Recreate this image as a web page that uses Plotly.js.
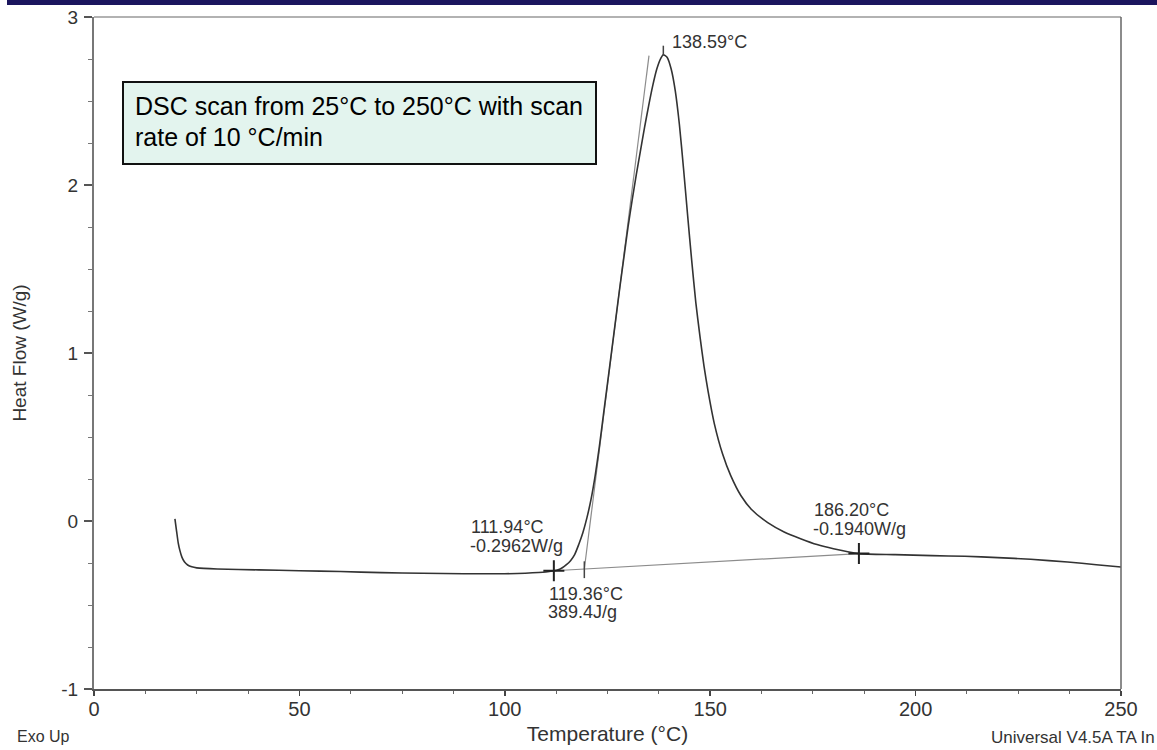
<!DOCTYPE html>
<html>
<head>
<meta charset="utf-8">
<script src="https://cdn.plot.ly/plotly-3.0.1.min.js"></script>
<style>html,body{margin:0;padding:0;background:#fff;}#chart{width:1157px;height:750px;}</style>
</head>
<body>
<div id="chart"></div>
<script>
// ---- Data ----
const temperature = [19.7, 20.1, 20.5, 20.9, 21.4, 22.0, 22.8, 23.8, 25, 30, 40, 50, 60, 70, 80, 90, 100, 105, 110, 111.94,
  113, 114, 115, 116, 117, 118, 119, 120, 121, 122, 123, 124, 125, 126, 127, 128, 129, 130, 131, 132, 133, 134, 135, 136, 137, 138, 138.59,
  139.5, 140.5, 141.5, 142.5, 143.5, 144.5, 145.5, 146.5, 147.5, 148.5, 149.5, 151, 153, 155, 157.5, 160, 164, 168, 172, 176, 180, 186.2,
  195, 204, 212, 220, 228, 237, 244, 250];
const heatFlow = [0.012, -0.06, -0.13, -0.175, -0.215, -0.243, -0.262, -0.273, -0.279, -0.286, -0.291, -0.296, -0.301, -0.307, -0.311, -0.314, -0.314, -0.311, -0.304, -0.296,
  -0.29, -0.278, -0.26, -0.236, -0.2, -0.14, -0.07, 0.02, 0.13, 0.27, 0.44, 0.63, 0.82, 1.01, 1.2, 1.39, 1.57, 1.75, 1.91, 2.06, 2.20, 2.34, 2.47, 2.59, 2.69, 2.755, 2.775,
  2.76, 2.69, 2.56, 2.36, 2.10, 1.82, 1.55, 1.30, 1.10, 0.92, 0.77, 0.58, 0.40, 0.27, 0.15, 0.07, -0.01, -0.065, -0.105, -0.14, -0.165, -0.194,
  -0.2, -0.206, -0.21, -0.218, -0.228, -0.244, -0.26, -0.274];

const baselineT = [111.94, 186.20];
const baselineHF = [-0.2962, -0.1940];
const tangentT = [119.36, 135.1];
const tangentHF = [-0.286, 2.77];
const limitT = [111.94, 186.20];
const limitHF = [-0.2962, -0.1940];
const onsetT = [119.36];
const onsetHF = [-0.29];
const peakT = [138.59];
const peakHF = [2.80];

const xTicks = [0, 50, 100, 150, 200, 250];
const yTicks = [-1, 0, 1, 2, 3];

const labelOnsetStart = ["111.94°C", "-0.2962W/g"];
const labelOnset = ["119.36°C", "389.4J/g"];
const labelEnd = ["186.20°C", "-0.1940W/g"];
const labelPeak = "138.59°C";
const boxLines = ["DSC scan from 25°C to 250°C with scan", "rate of 10 °C/min"];

// ---- Layout helpers (pixel -> paper) ----
const W = 1157, H = 750;
const mL = 94, mR = 36, mT = 17, mB = 61;
const pw = W - mL - mR, ph = H - mT - mB;
const px = v => (v - mL) / pw;
const py = v => (H - mB - v) / ph;

const FONT = "Liberation Sans, Arial, Helvetica, sans-serif";

const traces = [
  {x: baselineT, y: baselineHF, mode: 'lines', line: {color: '#8c8c8c', width: 1.2}, hoverinfo: 'skip', showlegend: false},
  {x: tangentT, y: tangentHF, mode: 'lines', line: {color: '#8c8c8c', width: 1.2}, hoverinfo: 'skip', showlegend: false},
  {x: temperature, y: heatFlow, mode: 'lines', line: {color: '#333333', width: 1.6, shape: 'spline', smoothing: 0.6}, showlegend: false},
  {x: limitT, y: limitHF, mode: 'markers', marker: {symbol: 'cross-thin', size: 15, line: {color: '#222', width: 2}}, showlegend: false},
  {x: onsetT, y: onsetHF, mode: 'markers', marker: {symbol: 'line-ns', size: 12, line: {color: '#444', width: 1.5}}, showlegend: false},
  {x: peakT, y: peakHF, mode: 'markers', marker: {symbol: 'line-ns', size: 7, line: {color: '#444', width: 1.5}}, showlegend: false}
];

const ann = (x, y, text, size, color) => ({
  xref: 'paper', yref: 'paper', x: px(x), y: py(y), text: text, showarrow: false,
  xanchor: 'left', yanchor: 'middle', align: 'left',
  font: {family: FONT, size: size, color: color || '#333'}
});

const layout = {
  width: W, height: H,
  margin: {l: mL, r: mR, t: mT, b: mB, pad: 0},
  paper_bgcolor: '#ffffff', plot_bgcolor: '#ffffff',
  font: {family: FONT, color: '#333'},
  showlegend: false,
  xaxis: {
    range: [0, 250], tickvals: xTicks, ticktext: xTicks.map(String),
    ticks: 'outside', ticklen: 5, tickwidth: 1.5, tickcolor: '#444',
    minor: {dtick: 12.5, tick0: 0, ticks: 'outside', ticklen: 3, tickcolor: '#666', tickwidth: 1},
    showgrid: false, zeroline: false, showline: true, linecolor: '#555', linewidth: 1.5,
    tickfont: {family: FONT, size: 20, color: '#333'}, ticklabelstandoff: -4,
    title: {text: 'Temperature (°C)', font: {family: FONT, size: 21, color: '#333'}, standoff: 8}
  },
  yaxis: {
    range: [-1, 3], tickvals: yTicks, ticktext: yTicks.map(String),
    ticks: 'outside', ticklen: 8, tickwidth: 1.5, tickcolor: '#555',
    minor: {dtick: 0.25, tick0: 0, ticks: 'outside', ticklen: 4, tickcolor: '#777', tickwidth: 1},
    showgrid: false, zeroline: false, showline: true, linecolor: '#777', linewidth: 2,
    tickfont: {family: FONT, size: 19, color: '#333'}, ticklabelstandoff: 2,
    title: {text: 'Heat Flow (W/g)', font: {family: FONT, size: 19, color: '#333'}, standoff: 30}
  },
  shapes: [
    {type: 'rect', xref: 'paper', yref: 'paper', x0: px(7), x1: px(1157), y0: py(5), y1: py(0),
     fillcolor: '#1b155e', line: {width: 0}, layer: 'above'},
    {type: 'line', xref: 'paper', yref: 'paper', x0: 0, x1: 1, y0: 1, y1: 1, line: {color: '#999', width: 1.5}},
    {type: 'line', xref: 'paper', yref: 'paper', x0: 1, x1: 1, y0: 0, y1: 1, line: {color: '#666', width: 1.5}},
    {type: 'rect', xref: 'paper', yref: 'paper', x0: px(123), x1: px(596), y0: py(164), y1: py(82),
     fillcolor: '#e3f4ee', line: {color: '#111', width: 2}}
  ],
  annotations: [
    ann(133, 106, boxLines[0], 25, '#000'),
    ann(133, 137, boxLines[1], 25, '#000'),
    ann(469, 527, labelOnsetStart[0], 18),
    ann(468, 546, labelOnsetStart[1], 18),
    ann(547, 594, labelOnset[0], 18),
    ann(546, 612, labelOnset[1], 18),
    ann(812, 510, labelEnd[0], 18),
    ann(811, 529, labelEnd[1], 18),
    ann(670, 42, labelPeak, 18),
    ann(15, 736, 'Exo Up', 16),
    ann(989, 737, 'Universal V4.5A TA In', 17)
  ]
};

Plotly.newPlot('chart', traces, layout, {displayModeBar: false, staticPlot: true});
</script>
</body>
</html>
